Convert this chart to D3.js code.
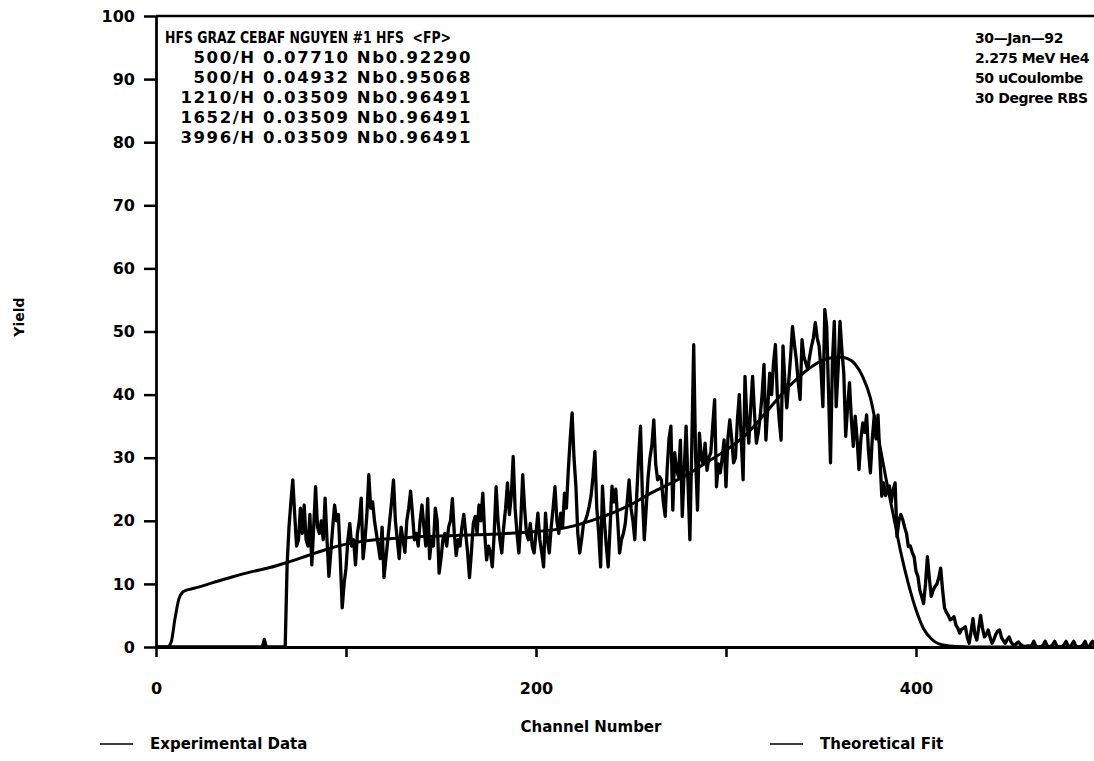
<!DOCTYPE html>
<html>
<head>
<meta charset="utf-8">
<script src="https://cdn.jsdelivr.net/npm/d3@7"></script>
<style>
body { margin: 0; background: #fff; }
text { font-family: "DejaVu Sans", sans-serif; font-weight: bold; fill: #000; white-space: pre; }
</style>
</head>
<body>
<svg id="drawing_region"></svg>
<script>
// header text blocks
const headerTitle = "HFS GRAZ CEBAF NGUYEN #1 HFS  <FP>";
const headerLayers = [
    "500/H 0.07710 Nb0.92290",
    "500/H 0.04932 Nb0.95068",
    "1210/H 0.03509 Nb0.96491",
    "1652/H 0.03509 Nb0.96491",
    "3996/H 0.03509 Nb0.96491"
];
const runInfo = ["30\u2014Jan\u201492", "2.275 MeV He4", "50 uCoulombe", "30 Degree RBS"];

const yTicks = [0, 10, 20, 30, 40, 50, 60, 70, 80, 90, 100];
const xTicks = [0, 100, 200, 300, 400, 500];
const xTickLabels = ["0", "", "200", "", "400", ""];

// experimental yield, one value per channel starting at channel 0
const expYield = [
    0, 0, 0, 0, 0, 0, 0, 0, 0, 0,
    0, 0, 0, 0, 0, 0, 0, 0, 0, 0,
    0, 0, 0, 0, 0, 0, 0, 0, 0, 0,
    0, 0, 0, 0, 0, 0, 0, 0, 0, 0,
    0, 0, 0, 0, 0, 0, 0, 0, 0, 0,
    0, 0, 0, 0, 0, 0, 0, 1.2, 0, 0,
    0, 0, 0, 0, 0, 0, 0, 0, 0, 13,
    19, 23, 26.5, 21, 16, 17, 22, 18, 22.5, 17,
    16, 21, 13, 19, 25.4, 19, 18, 20, 17, 23.6,
    17, 11.2, 15, 19, 22.5, 20, 21, 14, 6.2, 10,
    12.5, 17, 19.6, 16, 17, 13, 18, 20, 23.6, 14,
    17, 21, 27.3, 22, 23, 20, 18, 16, 14, 19,
    11, 14, 17, 20, 23, 26.5, 20, 17, 14, 19,
    17, 15, 20, 22, 24.7, 21, 17, 18, 16, 20,
    22.5, 19, 16, 23.5, 14, 17, 16, 22, 20, 11.7,
    14, 17, 18, 16, 19, 20, 23.5, 18, 14.5, 17,
    16, 19, 21, 18, 15, 11, 15, 19.6, 20.7, 18,
    22.5, 20, 24.4, 18, 13.8, 16, 15, 12.7, 18, 25.4,
    20, 17, 14.9, 19, 22, 26, 21, 24, 30.2, 22,
    18, 14.9, 20, 27.3, 22, 18, 17, 19.6, 16, 14.9,
    18, 21.2, 17, 15, 12.7, 21.2, 17, 14.9, 19, 22,
    25.4, 20, 18, 21.2, 19, 24.4, 22, 28, 33, 37.1,
    30, 25.5, 18, 14.9, 17, 19.6, 20, 21, 22.3, 24,
    27, 31, 22, 18, 12.7, 25.5, 20, 16, 12.7, 19,
    25.5, 23, 25, 20, 14.9, 17, 18, 19.6, 23, 26.5,
    22, 20, 17, 24, 30, 35, 24, 17, 22, 27,
    30, 32, 36, 29, 26.5, 27, 26.5, 23, 20.7, 28,
    33, 35, 21.7, 30.8, 28, 27, 32.8, 20.7, 28, 35,
    26, 17, 32, 47.9, 30, 21.7, 33.9, 30, 29, 32.3,
    28, 30, 30.8, 35, 39.2, 25.4, 29, 27.6, 30, 32.8,
    25.4, 33, 36, 33, 29.2, 30, 36, 40, 33, 26.5,
    42.9, 36, 32.3, 38, 42.9, 37, 32.3, 34, 36.6, 40,
    44.8, 32.8, 38, 43.4, 40, 45, 47.9, 40, 36, 32.8,
    47.7, 42, 37.9, 42, 46, 50.8, 48, 45.6, 42, 39.2,
    48.7, 46, 45, 44, 46, 47.7, 49, 51.4, 49, 47.7,
    44, 38.1, 53.5, 50.8, 40, 29.2, 45, 51.6, 38.1, 44,
    51.6, 47, 43.4, 33.4, 38, 41.9, 36, 31.8, 36.6, 33,
    28.1, 33, 35.5, 34, 36.8, 31, 27.6, 33, 36.6, 33,
    36.8, 30, 23.9, 26, 24, 24.9, 25.5, 23, 25, 26,
    17.5, 20, 21, 20.2, 19, 18, 15.9, 16, 15, 14.3,
    12, 11.2, 9, 8, 6.9, 10, 14.3, 11, 8, 9,
    9.6, 10, 11, 12.5, 9, 6.2, 5.5, 5, 4.3, 4.5,
    4.8, 3.5, 3, 2.2, 2.8, 3, 3.2, 1.5, 0.6, 2.5,
    4.5, 2, 1.1, 3, 5, 3, 1.6, 2, 2.7, 1.5,
    0.6, 1.2, 2, 2.5, 2.7, 1.5, 1, 0.6, 1.2, 1.6,
    0.8, 0.4, 0.3, 0.6, 0.8, 0.4, 0.2, 0.1, 0.1, 0.2,
    0.1, 0.3, 0.9, 0.2, 0, 0, 0.1, 0.3, 0.9, 0.2,
    0, 0.1, 0.4, 0.9, 0.2, 0, 0, 0.1, 0.4, 0.9,
    0.2, 0, 0.4, 0.9, 0.2, 0, 0, 0.1, 0.4, 0.9,
    0.1, 0, 0.5, 0.9, 0.2, 0, 0.1, 0.3, 0.9, 0.2,
    0, 0.1, 0.5, 0.9, 0.2, 0, 0, 0.3, 0.9, 0.2,
    0, 0
];

// theoretical fit, read at these channels
const fitChannels = [0, 6, 8, 10, 12, 14, 16, 20, 30, 40, 50, 60, 69, 80, 90, 100, 110, 120, 130, 140,
    150, 160, 170, 180, 190, 200, 210, 220, 230, 240, 250, 260, 270, 280, 290, 300, 310, 320, 330, 340,
    345, 350, 355, 360, 364, 368, 372, 376, 380, 384, 388, 392, 396, 400, 404, 408, 412, 418, 425, 432, 512];
const fitYield = [0, 0, 0.8, 4.5, 7.6, 8.7, 9.0, 9.3, 10.2, 11.1, 11.9, 12.6, 13.4, 14.5, 15.5, 16.3, 16.8, 17.1, 17.3, 17.5,
    17.6, 17.7, 17.8, 17.9, 18.1, 18.3, 18.6, 19.2, 20.1, 21.2, 22.6, 24.3, 25.8, 27.4, 29.3, 31.2, 33.5, 36.8, 40.3, 43.2,
    44.4, 45.3, 45.8, 45.9, 45.7, 44.8, 42.8, 39.5, 33.5, 27, 21, 15, 10, 5.9, 2.9, 1.3, 0.5, 0.15, 0.03, 0, 0];

const config = {
    parent: '#drawing_region',
    width: 1094,
    height: 761,
    margin: {top: 16, left: 156, bottom: 114}
};

const svg = d3.select(config.parent)
    .attr('width', config.width)
    .attr('height', config.height);

const xscale = d3.scaleLinear()
    .domain([0, 512])
    .range([config.margin.left, config.margin.left + 512 * 1.9]);

const yscale = d3.scaleLinear()
    .domain([0, 100])
    .range([config.height - config.margin.bottom, config.margin.top]);

// frame (top edge)
svg.append('line')
    .attr('x1', xscale(0)).attr('x2', xscale(512))
    .attr('y1', yscale(100)).attr('y2', yscale(100))
    .attr('stroke', '#000').attr('stroke-width', 2.5);

const yaxis = d3.axisLeft(yscale)
    .tickValues(yTicks)
    .tickSize(12)
    .tickSizeOuter(0)
    .tickPadding(9);

const yaxis_group = svg.append('g')
    .attr('transform', `translate(${xscale(0)}, 0)`)
    .call(yaxis);

const xaxis = d3.axisBottom(xscale)
    .tickValues(xTicks)
    .tickFormat((d, i) => xTickLabels[i])
    .tickSize(10)
    .tickSizeOuter(0)
    .tickPadding(26);

const xaxis_group = svg.append('g')
    .attr('transform', `translate(0, ${yscale(0)})`)
    .call(xaxis);

[yaxis_group, xaxis_group].forEach(g => {
    g.select('.domain').attr('stroke-width', 2.8);
    g.selectAll('.tick line').attr('stroke-width', 2.5);
    g.selectAll('.tick text')
        .style('font-size', '16px')
        .style('font-family', '"DejaVu Sans", sans-serif')
        .style('font-weight', 'bold');
});

// data lines
const expLine = d3.line()
    .x((d, i) => xscale(i))
    .y(d => yscale(d));

svg.append('path')
    .datum(expYield)
    .attr('d', expLine)
    .attr('fill', 'none')
    .attr('stroke', '#000')
    .attr('stroke-width', 3.3)
    .attr('stroke-linejoin', 'round');

const fitLine = d3.line()
    .x((d, i) => xscale(fitChannels[i]))
    .y(d => yscale(d))
    .curve(d3.curveMonotoneX);

svg.append('path')
    .datum(fitYield)
    .attr('d', fitLine)
    .attr('fill', 'none')
    .attr('stroke', '#000')
    .attr('stroke-width', 3);

// header blocks
svg.append('text')
    .attr('x', 165).attr('y', 43)
    .style('font-size', '16px')
    .attr('textLength', 286)
    .attr('lengthAdjust', 'spacingAndGlyphs')
    .text(headerTitle);

svg.selectAll('.layer')
    .data(headerLayers)
    .enter()
    .append('text')
    .attr('class', 'layer')
    .attr('x', 472)
    .attr('y', (d, i) => 63 + i * 20)
    .attr('text-anchor', 'end')
    .style('font-size', '16.5px')
    .style('letter-spacing', '1.6px')
    .text(d => d);

svg.selectAll('.info')
    .data(runInfo)
    .enter()
    .append('text')
    .attr('class', 'info')
    .attr('x', 975)
    .attr('y', (d, i) => 43 + i * 20)
    .style('font-size', '14px')
    .style('letter-spacing', '-0.4px')
    .text(d => d);

// axis titles
svg.append('text')
    .attr('transform', 'translate(24, 317) rotate(-90)')
    .attr('text-anchor', 'middle')
    .style('font-size', '14px')
    .text('Yield');

svg.append('text')
    .attr('x', 591).attr('y', 732)
    .attr('text-anchor', 'middle')
    .style('font-size', '15px')
    .text('Channel Number');

// legend
const legendItems = [
    {label: 'Experimental Data', x: 100},
    {label: 'Theoretical Fit', x: 770}
];
const legend = svg.selectAll('.legend')
    .data(legendItems)
    .enter()
    .append('g')
    .attr('class', 'legend')
    .attr('transform', d => `translate(${d.x}, 744)`);

legend.append('line')
    .attr('x1', 0).attr('x2', 33)
    .attr('y1', 0).attr('y2', 0)
    .attr('stroke', '#000').attr('stroke-width', 1.6);

legend.append('text')
    .attr('x', 50).attr('y', 5)
    .style('font-size', '15px')
    .text(d => d.label);
</script>
</body>
</html>
